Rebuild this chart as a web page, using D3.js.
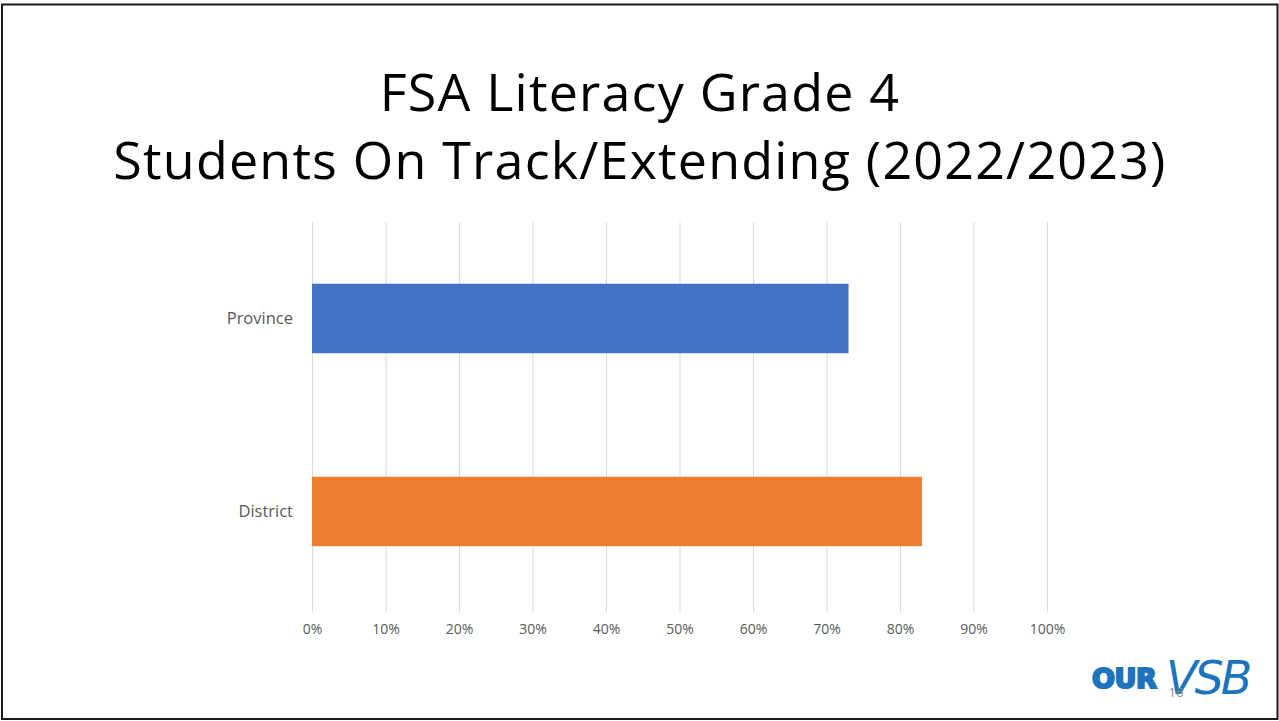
<!DOCTYPE html>
<html>
<head>
<meta charset="utf-8">
<script src="https://cdn.jsdelivr.net/npm/d3@7"></script>
<style>
  body { margin: 0; background: #fff; }
  svg { display: block; }
</style>
</head>
<body>
<svg id="svg" width="1279" height="721"></svg>
<script>
// chart data
var categories = ["Province", "District"];
var values = [73, 83];
var barColors = ["#4472c4", "#ed7d31"];
var tickValues = [0, 10, 20, 30, 40, 50, 60, 70, 80, 90, 100];
var titleLines = ["FSA Literacy Grade 4", "Students On Track/Extending (2022/2023)"];

var svg = d3.select("#svg");
var width = +svg.attr("width"),
    height = +svg.attr("height");

// slide frame
svg.append("rect").attr("x", 2).attr("y", 4.5).attr("width", 1275.5).attr("height", 714.5)
  .attr("fill", "none").attr("stroke", "#1a1a1a").attr("stroke-width", 2);

// title
svg.append("g").selectAll("text")
  .data(titleLines)
  .enter().append("text")
    .attr("x", 640)
    .attr("y", function(d, i) { return 111 + i * 68; })
    .attr("text-anchor", "middle")
    .attr("font-family", "'Open Sans', sans-serif")
    .attr("font-weight", 500)
    .attr("font-size", "52px")
    .attr("letter-spacing", "1.2px")
    .attr("fill", "#000")
    .text(function(d) { return d; });

var x = d3.scaleLinear().domain([0, 100]).range([312, 1047]);
var y = d3.scaleBand().domain(categories).range([222, 608]).paddingInner(0.64).paddingOuter(0.32);

// gridlines
svg.append("g").selectAll("line")
  .data(tickValues)
  .enter().append("line")
    .attr("x1", function(d) { return x(d) + 0.5; })
    .attr("x2", function(d) { return x(d) + 0.5; })
    .attr("y1", 222)
    .attr("y2", 612)
    .attr("stroke", "#d9d9d9")
    .attr("stroke-width", 1);

// x axis labels
var xAxis = d3.axisBottom(x).tickValues(tickValues).tickSize(0).tickPadding(0)
  .tickFormat(function(d) { return d + "%"; });
var gx = svg.append("g").attr("transform", "translate(0,624)").call(xAxis);
gx.select(".domain").remove();
gx.selectAll("text")
  .attr("font-family", "'Open Sans', sans-serif")
  .attr("font-size", "14px")
  .attr("fill", "#595959");

// bars
svg.append("g").selectAll("rect")
  .data(values)
  .enter().append("rect")
    .attr("x", x(0))
    .attr("y", function(d, i) { return y(categories[i]); })
    .attr("width", function(d) { return x(d) - x(0); })
    .attr("height", y.bandwidth())
    .attr("fill", function(d, i) { return barColors[i]; });

// category labels
var yAxis = d3.axisLeft(y).tickSize(0).tickPadding(19);
var gy = svg.append("g").attr("transform", "translate(312,0)").call(yAxis);
gy.select(".domain").remove();
gy.selectAll("text")
  .attr("font-family", "'Open Sans', sans-serif")
  .attr("font-size", "16.5px")
  .attr("fill", "#595959");

// logo
var logo = svg.append("g");
logo.append("text")
  .attr("x", 1092).attr("y", 688)
  .attr("font-family", "'DejaVu Sans', sans-serif")
  .attr("font-weight", "bold")
  .attr("font-size", "27px")
  .attr("fill", "#1d74bd")
  .attr("stroke", "#1d74bd").attr("stroke-width", 2.2)
  .attr("letter-spacing", "-0.5")
  .text("OUR");
logo.append("text")
  .attr("x", 1166).attr("y", 694)
  .attr("font-family", "'DejaVu Sans', sans-serif")
  .attr("font-style", "italic")
  .attr("font-size", "46px")
  .attr("fill", "#1d74bd")
  .attr("letter-spacing", "-3")
  .text("VSB");

// slide number
svg.append("text")
  .attr("x", 1176).attr("y", 697)
  .attr("text-anchor", "middle")
  .attr("font-family", "'Open Sans', sans-serif")
  .attr("font-size", "13px")
  .attr("fill", "#8a8a8a")
  .text("16");
</script>
</body>
</html>
